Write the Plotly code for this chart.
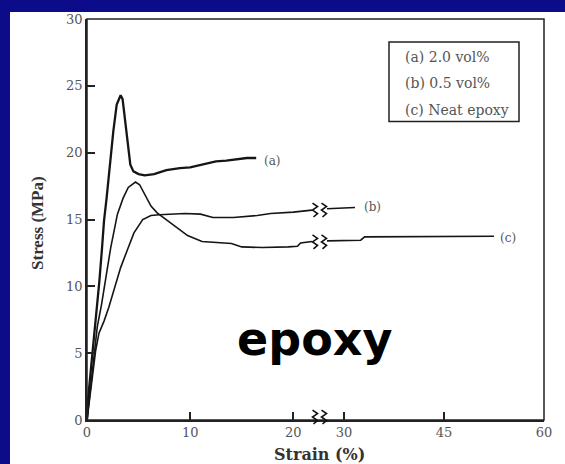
import plotly.graph_objects as go

# ---------------- data ----------------
# (a) 2.0 vol%  – only below the axis break
strain_a = [0, 0.1, 0.4, 0.7, 1.0, 1.2, 1.45, 1.65, 1.9, 2.2, 2.55, 2.88, 3.1, 3.26,
            3.45, 3.6, 3.85, 4.2, 4.5, 5.0, 5.6, 6.5, 7.7, 9.0, 10.0, 11.0, 11.6,
            12.5, 13.5, 14.5, 15.5, 16.4]
stress_a = [0, 1.5, 4.0, 6.2, 8.4, 10.4, 12.8, 14.9, 16.6, 19.0, 21.6, 23.6, 24.1, 24.3,
            24.0, 23.0, 21.1, 19.1, 18.6, 18.4, 18.3, 18.4, 18.7, 18.85, 18.9, 19.1, 19.2,
            19.35, 19.4, 19.5, 19.6, 19.6]

# (b) 0.5 vol%  – before and after the break
strain_b1 = [0, 0.2, 0.5, 0.84, 1.16, 1.65, 2.1, 2.6, 3.26, 3.9, 4.55, 5.4, 6.2, 7.0,
             8.0, 9.5, 11.0, 12.2, 14.2, 16.5, 17.8, 20.0, 21.8]
stress_b1 = [0, 1.2, 2.75, 5.2, 6.5, 7.4, 8.4, 9.7, 11.4, 12.7, 14.0, 15.0, 15.3, 15.35,
             15.4, 15.45, 15.4, 15.15, 15.15, 15.3, 15.45, 15.55, 15.7]
strain_b2 = [27.45, 29.5, 31.65]
stress_b2 = [15.8, 15.85, 15.9]

# (c) Neat epoxy – before and after the break
strain_c1 = [0, 0.2, 0.6, 1.0, 1.4, 1.8, 2.3, 2.95, 3.5, 4.0, 4.7, 5.1, 5.5, 6.2, 6.8,
             7.5, 8.45, 9.75, 11.15, 12.5, 14.0, 15.0, 17.0, 19.5, 20.4, 20.7, 21.8]
stress_c1 = [0, 1.5, 4.5, 7.0, 8.6, 10.4, 12.9, 15.4, 16.6, 17.4, 17.8, 17.6, 17.0, 16.0,
             15.5, 15.1, 14.6, 13.8, 13.35, 13.3, 13.2, 12.95, 12.9, 12.95, 13.0, 13.25,
             13.35]
strain_c2 = [27.45, 32.5, 33.1, 52.5]
stress_c2 = [13.4, 13.45, 13.7, 13.75]

legend_labels = ["(a) 2.0 vol%", "(b) 0.5 vol%", "(c) Neat epoxy"]
curve_tags = ["(a)", "(b)", "(c)"]
tag_x = [18.0, 34.3, 54.6]
tag_y = [19.4, 15.9, 13.6]
y_ticks = [0, 5, 10, 15, 20, 25, 30]
x_ticks_left = [0, 10, 20]
x_ticks_right = [30, 45, 60]
x_title = "Strain (%)"
y_title = "Stress (MPa)"
big_label = "epoxy"

# ---------------- layout helpers (pixel geometry) ----------------
W, H = 565, 464
L, R, T, B = 87, 544, 17, 420
PW, PH = R - L, B - T
BREAK_PX = 315


def px(x):
    return (x - L) / PW


def py(y):
    return (B - y) / PH


D = px(BREAK_PX)

fig = go.Figure()
line_col = "#151515"
fig.add_trace(go.Scatter(x=strain_a, y=stress_a, xaxis="x", yaxis="y", mode="lines",
                         line=dict(color=line_col, width=2.3), showlegend=False))
fig.add_trace(go.Scatter(x=strain_b1, y=stress_b1, xaxis="x", yaxis="y", mode="lines",
                         line=dict(color=line_col, width=1.6), showlegend=False))
fig.add_trace(go.Scatter(x=strain_b2, y=stress_b2, xaxis="x2", yaxis="y", mode="lines",
                         line=dict(color=line_col, width=1.6), showlegend=False))
fig.add_trace(go.Scatter(x=strain_c1, y=stress_c1, xaxis="x", yaxis="y", mode="lines",
                         line=dict(color=line_col, width=1.6), showlegend=False))
fig.add_trace(go.Scatter(x=strain_c2, y=stress_c2, xaxis="x2", yaxis="y", mode="lines",
                         line=dict(color=line_col, width=1.6), showlegend=False))

tick_font = dict(family="DejaVu Serif", size=13, color="#555555")
axis_common = dict(ticks="inside", ticklen=8, tickwidth=1.5, tickcolor="#222222",
                   showline=True, linecolor="#222222", linewidth=1.5,
                   showgrid=False, zeroline=False, tickfont=tick_font)

fig.update_layout(
    width=W, height=H,
    margin=dict(l=L, r=W - R, t=T, b=H - B, pad=0),
    paper_bgcolor="#0c0c8a",
    plot_bgcolor="white",
    xaxis=dict(domain=[0, D], range=[0, 22.1], tickvals=x_ticks_left, anchor="y",
               **axis_common),
    xaxis2=dict(domain=[D, 1], range=[25.65, 60], tickvals=x_ticks_right, anchor="y",
                **axis_common),
    yaxis=dict(range=[0, 30], tickvals=y_ticks, anchor="x", **axis_common),
)


def break_mark(cx, cy):
    pts = [(-2.5, -7), (2.5, -3.5), (-2.5, 0), (2.5, 3.5), (-1.5, 7)]
    path = "M " + " L ".join(f"{px(cx + dx):.5f},{py(cy + dy):.5f}" for dx, dy in pts)
    return dict(type="path", xref="paper", yref="paper", path=path,
                line=dict(color="#111111", width=1.6))


shapes = [
    # white panel over blue slide background
    dict(type="rect", xref="paper", yref="paper", x0=px(10), x1=px(W + 5),
         y0=py(H + 5), y1=py(10), fillcolor="white", line=dict(width=0), layer="below"),
    # plot frame
    dict(type="rect", xref="paper", yref="paper", x0=0, x1=1, y0=0, y1=1,
         line=dict(color="#222222", width=1.5)),
    # legend box
    dict(type="rect", xref="paper", yref="paper", x0=px(389), x1=px(519),
         y0=py(120), y1=py(40), line=dict(color="#222222", width=1.5)),
]
# axis-break marks (curve b, curve c, x axis)
for cy in [209, 241, 417]:
    shapes.append(break_mark(315, cy))
    shapes.append(break_mark(324, cy))
fig.update_layout(shapes=shapes)

ann = []
for i, lab in enumerate(legend_labels):
    ann.append(dict(text=lab, xref="paper", yref="paper", x=px(403), y=py([55, 81, 108][i]),
                    xanchor="left", yanchor="middle", showarrow=False,
                    font=dict(family="DejaVu Serif", size=14, color="#555555")))
for i, tag in enumerate(curve_tags):
    ann.append(dict(text=tag, xref="x" if i == 0 else "x2", yref="y", x=tag_x[i], y=tag_y[i],
                    xanchor="center", yanchor="middle", showarrow=False,
                    font=dict(family="DejaVu Serif", size=12, color="#555555")))
ann.append(dict(text=f"<b>{x_title}</b>", xref="paper", yref="paper", x=px(319), y=py(455),
                xanchor="center", yanchor="middle", showarrow=False,
                font=dict(family="DejaVu Serif", size=16, color="#333333")))
ann.append(dict(text=f"<b>{y_title}</b>", xref="paper", yref="paper", x=px(38), y=py(222),
                xanchor="center", yanchor="middle", showarrow=False, textangle=-90,
                font=dict(family="Liberation Serif", size=17, color="#333333")))
ann.append(dict(text=f"<b>{big_label}</b>", xref="paper", yref="paper", x=px(314), y=py(339),
                xanchor="center", yanchor="middle", showarrow=False,
                font=dict(family="DejaVu Sans", size=46, color="black")))
fig.update_layout(annotations=ann)

fig.write_html("out.html")
